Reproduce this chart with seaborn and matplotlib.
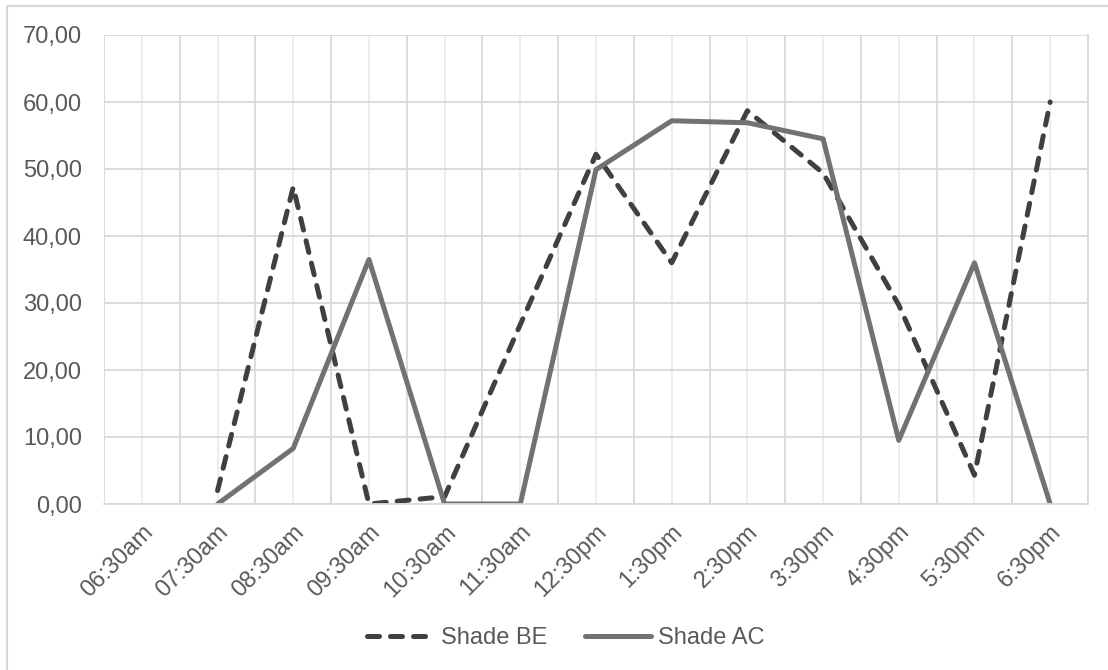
import matplotlib
matplotlib.use("Agg")
import matplotlib.pyplot as plt
import matplotlib.patches as mpatches
from matplotlib.ticker import FixedLocator, FuncFormatter
import numpy as np
import pandas as pd
import seaborn as sns

times = ["06:30am", "07:30am", "08:30am", "09:30am", "10:30am", "11:30am",
         "12:30pm", "1:30pm", "2:30pm", "3:30pm", "4:30pm", "5:30pm", "6:30pm"]
shade_be = [np.nan, 2.0, 47.3, 0.0, 1.1, 26.8, 52.2, 36.0, 58.7, 49.4, 29.7, 4.3, 60.0]
shade_ac = [np.nan, 0.0, 8.3, 36.5, 0.0, 0.0, 49.9, 57.2, 56.9, 54.5, 9.5, 36.0, 0.0]
series_names = ["Shade BE", "Shade AC"]

df = pd.DataFrame({
    "pos": list(range(len(times))) * 2,
    "value": shade_be + shade_ac,
    "series": [series_names[0]] * len(times) + [series_names[1]] * len(times),
})

sns.set_theme(style="white")
plt.rcParams["font.family"] = ["Liberation Sans", "DejaVu Sans"]
text_color = "#595959"
grid_major = "#d9d9d9"
grid_minor = "#ececec"
label_size = 17

fig = plt.figure(figsize=(11.08, 6.70), dpi=100)
ax = fig.add_axes([104 / 1108, 1 - 504 / 670, (1088 - 104) / 1108, (504 - 35) / 670])

palette = {"Shade BE": "#404040", "Shade AC": "#767171"}
sns.lineplot(data=df, x="pos", y="value", hue="series", style="series",
             palette=palette, dashes={"Shade BE": (2.4, 2.2), "Shade AC": ""},
             linewidth=3.6, ax=ax, legend=False, sort=False)
for line in ax.lines:
    line.set_dash_capstyle("round")
    line.set_solid_capstyle("round")
    line.set_solid_joinstyle("round")

ax.set_xlim(-0.5, len(times) - 0.5)
ax.set_ylim(0, 70)
ax.set_xlabel("")
ax.set_ylabel("")

# category labels at centres, boundary gridlines on minor ticks
ax.xaxis.set_major_locator(FixedLocator(range(len(times))))
ax.set_xticklabels(times, rotation=45, ha="right", rotation_mode="anchor")
ax.xaxis.set_minor_locator(FixedLocator(np.arange(-0.5, len(times), 1.0)))
ax.set_yticks(np.arange(0, 71, 10))
ax.yaxis.set_major_formatter(FuncFormatter(lambda v, _: f"{v:.2f}".replace(".", ",")))

ax.grid(which="major", axis="x", color=grid_minor, linewidth=1.3)
ax.grid(which="minor", axis="x", color=grid_major, linewidth=1.3)
ax.grid(which="major", axis="y", color=grid_major, linewidth=1.3)
ax.set_axisbelow(True)
ax.tick_params(axis="both", which="both", length=0, labelsize=label_size,
               labelcolor=text_color)
ax.tick_params(axis="x", pad=12)
ax.tick_params(axis="y", pad=16)
for side in ["top", "left"]:
    ax.spines[side].set_visible(False)
for side in ["bottom", "right"]:
    ax.spines[side].set_color(grid_major)
    ax.spines[side].set_linewidth(1.3)

handles = [
    plt.Line2D([], [], color=palette["Shade BE"], linewidth=3.6, dashes=(2.4, 2.2),
               dash_capstyle="round"),
    plt.Line2D([], [], color=palette["Shade AC"], linewidth=3.6, solid_capstyle="round"),
]
leg = fig.legend(handles, series_names, loc="center", ncol=2, frameon=False,
                 bbox_to_anchor=(566 / 1108, 1 - 638 / 670), fontsize=label_size,
                 handlelength=2.8, handletextpad=0.3, columnspacing=1.6)
for t in leg.get_texts():
    t.set_color(text_color)

# outer chart frame
fig.patches.append(mpatches.Rectangle((7 / 1108, -0.1), 1.2, 1 - 6 / 670 + 0.1,
                                      transform=fig.transFigure, fill=False,
                                      edgecolor=grid_major, linewidth=1.5))

fig.savefig("out.png", dpi=100, facecolor="white")
